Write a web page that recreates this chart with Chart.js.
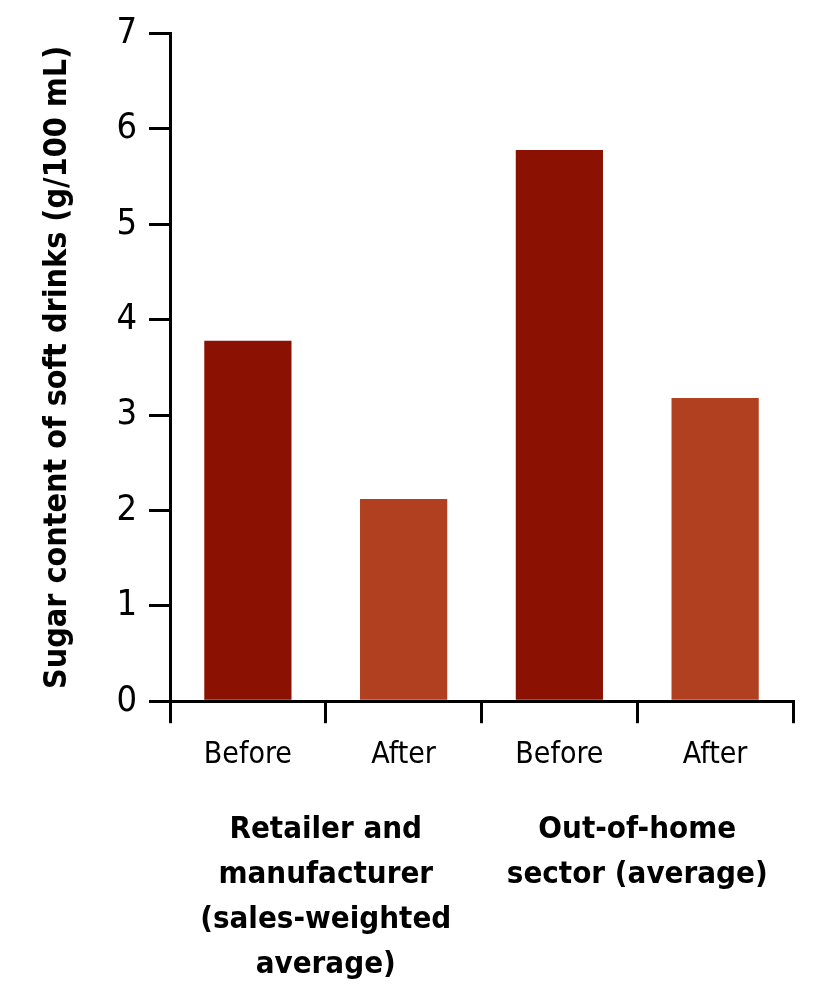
<!DOCTYPE html>
<html lang="en">
<head>
    <meta charset="UTF-8">
    <title>Sugar content of soft drinks</title>
    <script src="https://cdn.jsdelivr.net/npm/chart.js"></script>
    <style>
        body {
            margin: 0;
            background-color: #fff;
        }
    </style>
</head>
<body>
    <canvas id="barChart" width="819" height="998"></canvas>
    <script>
        // datos
        const categories = ['Before', 'After', 'Before', 'After'];
        const sugarValues = [3.78, 2.12, 5.78, 3.18];
        const barColors = ['#8b1102', '#b04020', '#8b1102', '#b04020'];
        const groupLabels = [
            ['Retailer and', 'manufacturer', '(sales-weighted', 'average)'],
            ['Out-of-home', 'sector (average)']
        ];
        const yTicks = [0, 1, 2, 3, 4, 5, 6, 7];

        const fontFamily = "'Liberation Sans Narrow', 'DejaVu Sans Condensed', sans-serif";

        const ctx = document.getElementById('barChart').getContext('2d');
        new Chart(ctx, {
            type: 'bar',
            data: {
                labels: categories,
                datasets: [{
                    label: 'Sugar content',
                    data: sugarValues,
                    backgroundColor: barColors,
                    categoryPercentage: 1,
                    barPercentage: 0.56
                }]
            },
            options: {
                responsive: false,
                animation: false,
                layout: {
                    padding: { top: 14, right: 26, left: 34, bottom: -1 }
                },
                plugins: {
                    legend: { display: false },
                    tooltip: { enabled: false }
                },
                scales: {
                    x: {
                        grid: {
                            drawOnChartArea: false,
                            drawTicks: true,
                            tickLength: 22,
                            color: '#000',
                            lineWidth: 3,
                            offset: true
                        },
                        border: { color: '#000', width: 3 },
                        ticks: {
                            color: '#000',
                            padding: 14,
                            font: { family: fontFamily, size: 30 }
                        }
                    },
                    groups: {
                        type: 'category',
                        labels: groupLabels,
                        position: 'bottom',
                        grid: { display: false },
                        border: { display: false },
                        ticks: {
                            color: '#000',
                            padding: 12,
                            font: { family: fontFamily, size: 31, weight: 'bold', lineHeight: 1.45 }
                        }
                    },
                    y: {
                        min: 0,
                        max: 7,
                        afterBuildTicks: (axis) => {
                            axis.ticks = yTicks.map(v => ({ value: v }));
                        },
                        grid: {
                            drawOnChartArea: false,
                            drawTicks: true,
                            tickLength: 21,
                            color: '#000',
                            lineWidth: 3
                        },
                        border: { color: '#000', width: 3 },
                        ticks: {
                            color: '#000',
                            padding: 12,
                            font: { family: fontFamily, size: 36 }
                        },
                        title: {
                            display: true,
                            text: 'Sugar content of soft drinks (g/100 mL)',
                            color: '#000',
                            padding: { bottom: 28 },
                            font: { family: fontFamily, size: 32, weight: 'bold' }
                        }
                    }
                }
            }
        });
    </script>
</body>
</html>
